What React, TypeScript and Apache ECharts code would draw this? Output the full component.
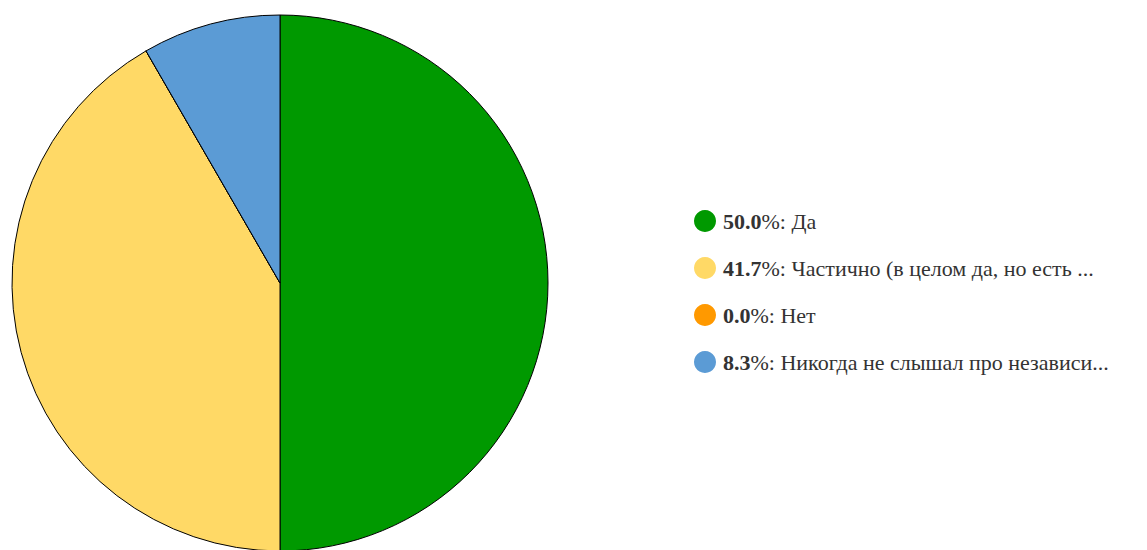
import React, { useEffect, useRef } from "react";
import * as echarts from "echarts";

const categories = [
  "Да",
  "Частично (в целом да, но есть ...",
  "Нет",
  "Никогда не слышал про независи...",
];
const values = [6, 5, 0, 1];
const colors = ["#009900", "#FFD966", "#FF9900", "#5B9BD5"];

export default function App() {
  const ref = useRef<HTMLDivElement>(null);
  useEffect(() => {
    if (!ref.current) return;
    const chart = echarts.init(ref.current, undefined, { renderer: "svg" });
    const total = values.reduce((a, b) => a + b, 0);
    const data = categories.map((name, i) => ({
      name,
      value: values[i],
      itemStyle: { color: colors[i] },
    }));
    const font = "Liberation Serif";
    chart.setOption({
      animation: false,
      legend: {
        orient: "vertical",
        left: 689,
        top: 205,
        icon: "circle",
        itemWidth: 22,
        itemHeight: 22,
        itemGap: 25,
        itemStyle: { borderWidth: 0 },
        textStyle: {
          fontFamily: font,
          fontSize: 22,
          color: "#333",
          padding: [0, 0, 0, 2],
          rich: {
            b: { fontFamily: font, fontSize: 22, fontWeight: "bold", color: "#333" },
            n: { fontFamily: font, fontSize: 22, color: "#333" },
          },
        },
        formatter: (name: string) => {
          const i = categories.indexOf(name);
          const pct = ((values[i] / total) * 100).toFixed(1);
          return `{b|${pct}}{n|%: ${name}}`;
        },
        data: categories,
      },
      series: [
        {
          type: "pie",
          center: [280, 283],
          radius: 268,
          startAngle: 90,
          clockwise: true,
          label: { show: false },
          labelLine: { show: false },
          itemStyle: { borderColor: "#000", borderWidth: 1 },
          emphasis: { disabled: true },
          data,
        },
      ],
    });
    return () => chart.dispose();
  }, []);
  return (
    <div
      ref={ref}
      style={{ position: "fixed", left: 0, top: 0, width: 1147, height: 550, background: "#fff" }}
    />
  );
}
